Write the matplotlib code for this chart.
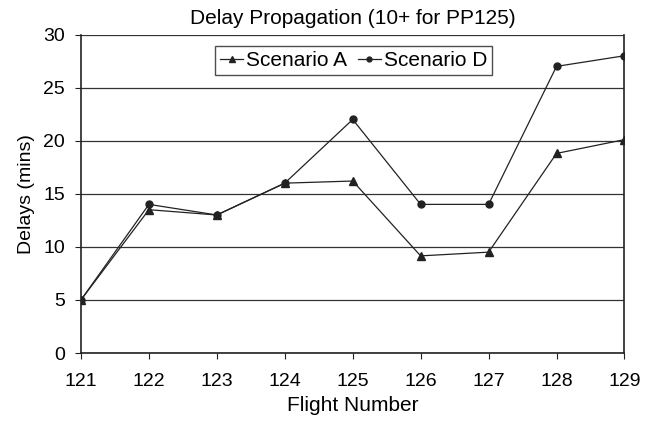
import matplotlib
matplotlib.use('Agg')
import matplotlib.pyplot as plt

flights = [121, 122, 123, 124, 125, 126, 127, 128, 129]
scenario_a = [5, 13.5, 13, 16, 16.2, 9.15, 9.5, 18.8, 20.1]
scenario_d = [5, 14, 13, 16, 22, 14, 14, 27, 28]

plt.rcParams['font.family'] = ['Liberation Sans', 'DejaVu Sans']

fig = plt.figure(figsize=(6.53, 4.21), dpi=100)
ax = fig.add_axes([0.124, 0.1615, 0.8323, 0.7565])

ax.plot(flights, scenario_a, color='#222222', lw=0.9, marker='^', ms=5.5, label='Scenario A')
ax.plot(flights, scenario_d, color='#222222', lw=0.9, marker='o', ms=5, label='Scenario D')

ax.set_xlim(121, 129)
ax.set_ylim(0, 30)
ax.set_yticks(range(0, 31, 5))
ax.set_xticks(flights)
ax.yaxis.grid(True, color='#333333', lw=0.9)
ax.set_axisbelow(True)
for s in ['left', 'bottom', 'right']:
    ax.spines[s].set_color('#222222')
    ax.spines[s].set_linewidth(1.2)
ax.spines['top'].set_visible(False)
ax.tick_params(labelsize=14, length=4, color='#222222')
ax.tick_params(axis='x', pad=10.5)
ax.tick_params(axis='y', pad=7.5)

ax.set_title('Delay Propagation (10+ for PP125)', fontsize=15, pad=7.3)
ax.set_xlabel('Flight Number', fontsize=15, labelpad=4.5)
ax.set_ylabel('Delays (mins)', fontsize=14, labelpad=6)

leg = ax.legend(loc='upper center', ncol=2, fontsize=15, frameon=True, fancybox=False,
                edgecolor='#222222', handlelength=1.1, columnspacing=0.5, handletextpad=0.15,
                borderpad=0.25, borderaxespad=0, markerscale=0.7,
                bbox_to_anchor=(0.502, 0.964))
leg.get_frame().set_linewidth(1.0)

fig.savefig('out.png', dpi=100)
